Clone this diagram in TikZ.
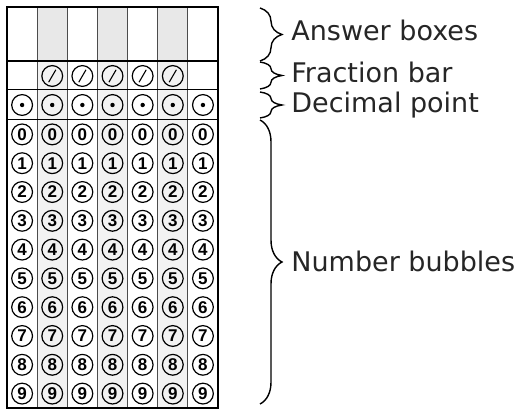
\documentclass[tikz,border=0pt]{standalone}
\usepackage{fontspec}
\setmainfont{DejaVu Sans}
\newfontfamily\bubblefont{Liberation Sans}
\usetikzlibrary{decorations.pathreplacing,positioning}

\begin{document}
\begin{tikzpicture}[x=0.5pt,y=-0.5pt,
  bubble/.style={circle,draw,line width=0.6pt,minimum size=10.4pt,inner sep=0pt,
    font=\bubblefont\bfseries\fontsize{8.5}{8.5}\selectfont},
  slashbubble/.style={bubble,path picture={
    \draw[line width=0.55pt] ([shift={(-3.6,6.2)}]path picture bounding box.center)
      -- ([shift={(3.6,-6.2)}]path picture bounding box.center);}},
  dotbubble/.style={bubble,path picture={
    \fill (path picture bounding box.center) circle (1.1pt);}},
  brace/.style={decorate,decoration={brace,amplitude=11pt},line width=0.7pt},
  label/.style={anchor=west,inner sep=0pt,text height=0.73em,text depth=0pt,
    text=black!85,font=\fontsize{13.5}{16}\selectfont}]
\useasboundingbox (0,0) rectangle (520,411);

\foreach \c in {1,3,5}{
  \fill[black!9] (7+30.14*\c,7) rectangle (7+30.14*\c+30.14,61);
  \fill[black!5] (7+30.14*\c,61) rectangle (7+30.14*\c+30.14,408);
}
\foreach \c in {1,...,6}
  \draw[line width=0.45pt,black!70] (7+30.14*\c,7) -- (7+30.14*\c,408);
\draw[line width=0.5pt] (7,90) -- (218,90);
\draw[line width=0.5pt] (7,120) -- (218,120);
\draw[line width=1pt] (7,61) -- (218,61);
\draw[line width=1.2pt] (7,7) rectangle (218,408);

\foreach \c in {1,...,5}
  \node[slashbubble] (f\c) at (22.1+30.14*\c,76) {};
\foreach \c in {0,...,6}{
  \node[dotbubble] (d\c) at (22.1+30.14*\c,105) {};
  \foreach \r in {0,...,9}
    \node[bubble] (n\c-\r) at (22.1+30.14*\c,134.4+28.8*\r) {\r};
}

\coordinate (ans-top) at (260,8);
\coordinate (ans-bot) at (260,61);
\coordinate (frac-top) at (260,62);
\coordinate (frac-bot) at (260,89);
\coordinate (dec-top) at (260,92);
\coordinate (dec-bot) at (260,118);
\coordinate (num-top) at (260,120);
\coordinate (num-bot) at (260,404);

\draw[brace] (ans-top) -- (ans-bot);
\draw[brace] (frac-top) -- (frac-bot);
\draw[brace] (dec-top) -- (dec-bot);
\draw[brace] (num-top) -- (num-bot);

\node[label] (ans) at (291,33) {Answer boxes};
\node[label] (frac) at (291,75) {Fraction bar};
\node[label] (dec) at (291,105) {Decimal point};
\node[label] (num) at (291,264) {Number bubbles};
\end{tikzpicture}
\end{document}
